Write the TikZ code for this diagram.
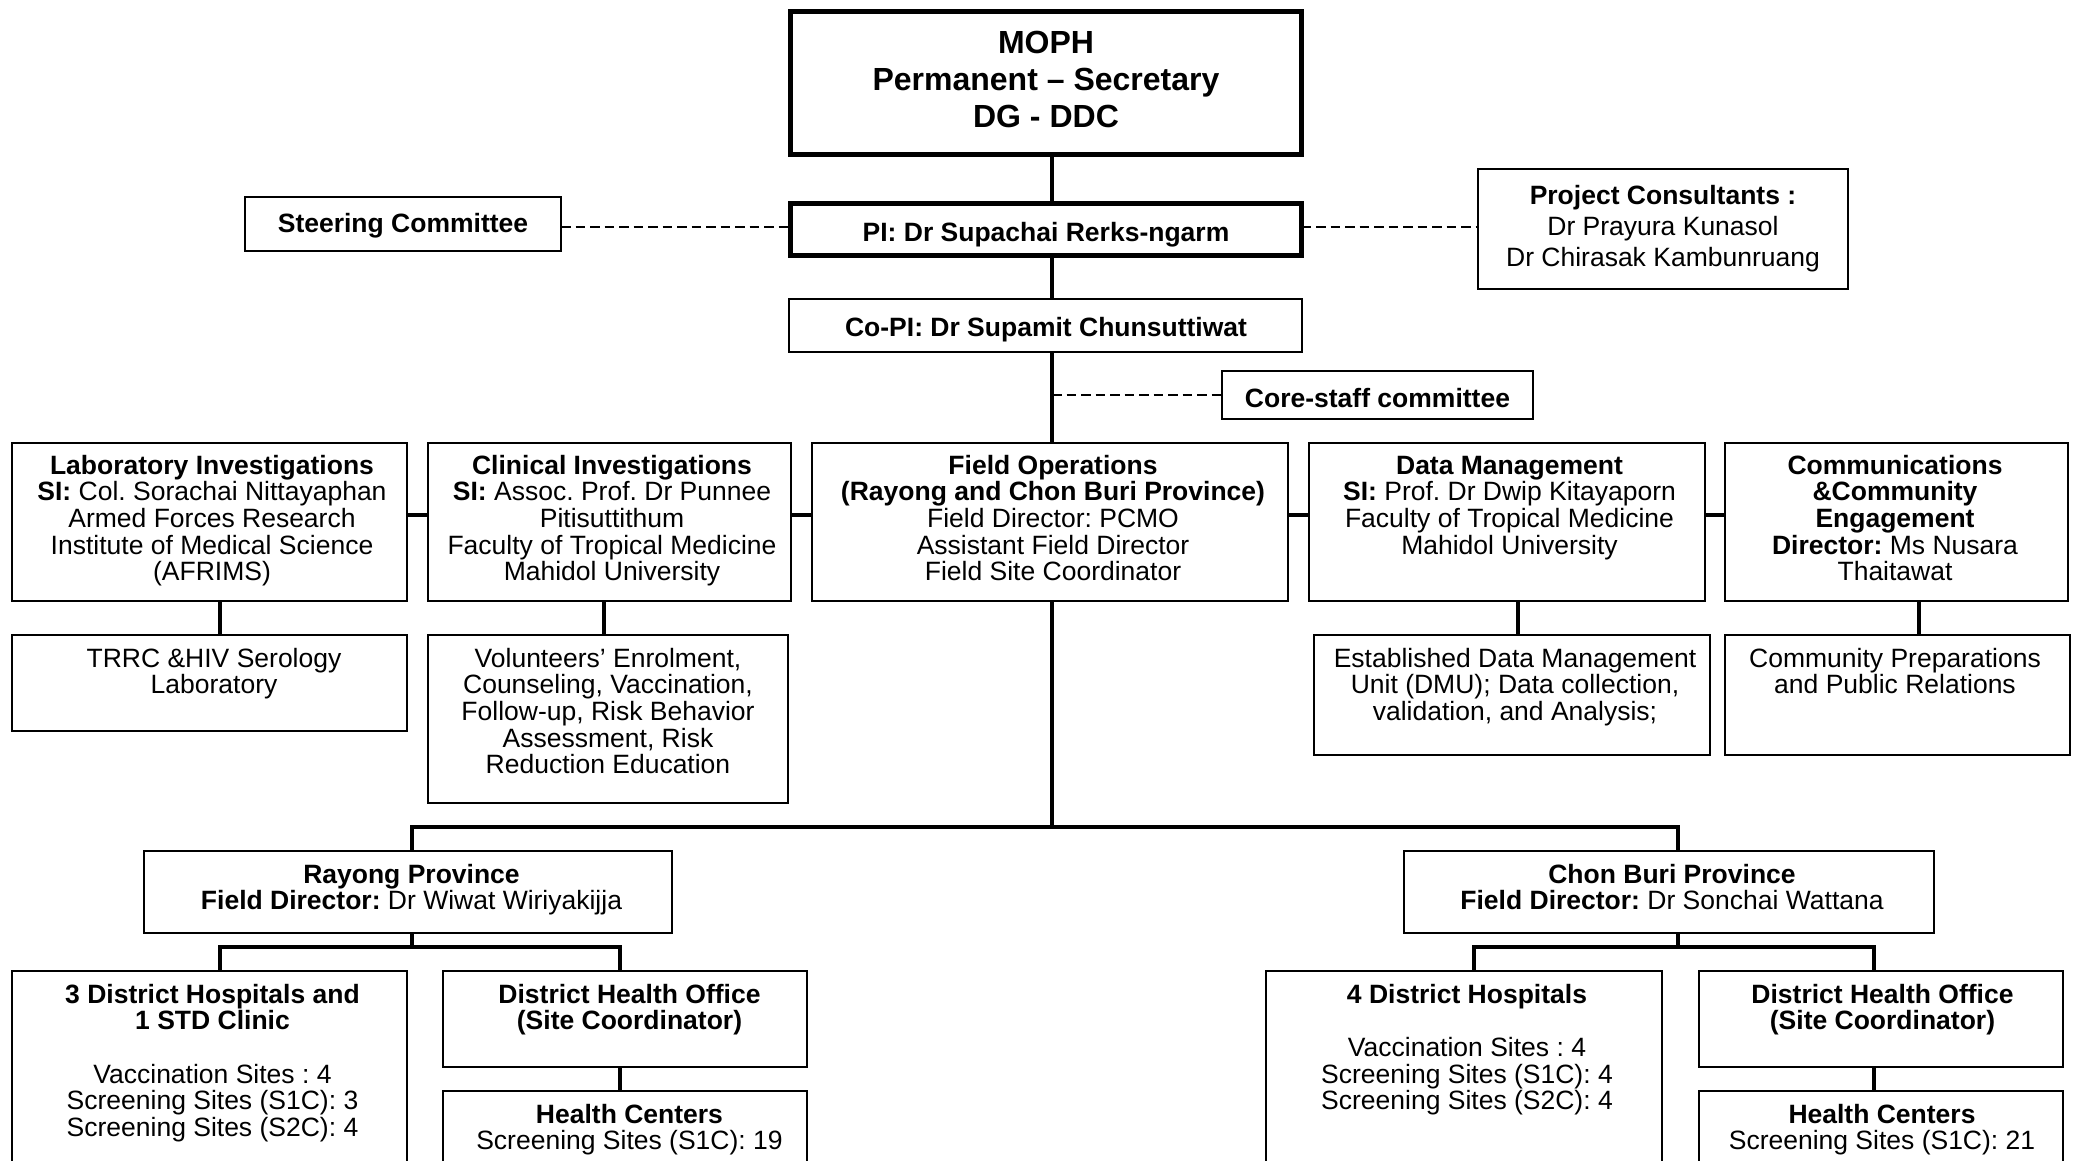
\documentclass[tikz,border=0pt]{standalone}
\usepackage{fontspec}
\setmainfont{Liberation Sans}
\frenchspacing
\newcommand\fs{\fontsize{26.5}{26.7}\selectfont}
\newcommand\fsc{\fontsize{26.5}{31.3}\selectfont}
\newcommand\fbig{\fontsize{32}{37}\selectfont}
\newcommand\fl{\rule{0pt}{20pt}}
\newcommand\flb{\rule{0pt}{24pt}}
\begin{document}
\frenchspacing
\begin{tikzpicture}[x=1pt,y=-1pt,
  box/.style={draw=black, line width=2pt, inner sep=0pt, outer sep=0pt},
  thickbox/.style={draw=black, line width=5pt, inner sep=0pt, outer sep=0pt},
  txt/.style={inner sep=0pt, outer sep=0pt, align=center, anchor=north, font=\fs},
  conn/.style={line width=3.2pt},
  rowconn/.style={line width=4pt},
  dashconn/.style={line width=2pt, dash pattern=on 9.5pt off 5pt}]
\useasboundingbox (0,0) rectangle (2078,1160);
\fill[white] (0,0) rectangle (2078,1160);
\begin{scope}
\clip (0,0) rectangle (2078,1160);
% ---------- boxes ----------
\node[thickbox, minimum width=511pt, minimum height=143pt] (moph) at (1046,83) {};
\node[thickbox, minimum width=511pt, minimum height=52pt] (pi) at (1046,229.5) {};
\node[box, minimum width=316pt, minimum height=54pt] (steer) at (403,224) {};
\node[box, minimum width=370pt, minimum height=120pt] (cons) at (1663,229) {};
\node[box, minimum width=513pt, minimum height=53pt] (copi) at (1045.5,325.5) {};
\node[box, minimum width=311pt, minimum height=48pt] (core) at (1377.5,395) {};
\node[box, minimum width=395pt, minimum height=158pt] (lab) at (209.5,522) {};
\node[box, minimum width=363pt, minimum height=158pt] (clin) at (609.5,522) {};
\node[box, minimum width=476pt, minimum height=158pt] (field) at (1050,522) {};
\node[box, minimum width=396pt, minimum height=158pt] (data) at (1507,522) {};
\node[box, minimum width=343pt, minimum height=158pt] (comm) at (1896.5,522) {};
\node[box, minimum width=395pt, minimum height=96pt] (trrc) at (209.5,683) {};
\node[box, minimum width=360pt, minimum height=168pt] (vol) at (608,719) {};
\node[box, minimum width=396pt, minimum height=120pt] (dmu) at (1512,695) {};
\node[box, minimum width=345pt, minimum height=120pt] (commsub) at (1897.5,695) {};
\node[box, minimum width=528pt, minimum height=82pt] (rayong) at (408,892) {};
\node[box, minimum width=530pt, minimum height=82pt] (chon) at (1669,892) {};
\node[box, minimum width=395pt, minimum height=229pt] (dhA) at (209.5,1085.5) {};
\node[box, minimum width=364pt, minimum height=96pt] (dhoR) at (625,1019) {};
\node[box, minimum width=364pt, minimum height=109pt] (hcR) at (625,1145.5) {};
\node[box, minimum width=396pt, minimum height=229pt] (dhB) at (1464,1085.5) {};
\node[box, minimum width=364pt, minimum height=96pt] (dhoC) at (1881,1019) {};
\node[box, minimum width=364pt, minimum height=109pt] (hcC) at (1881,1145.5) {};
% ---------- texts ----------
\node[txt, font=\fbig\bfseries] (tmoph) at (1046,29) {\flb MOPH\\Permanent – Secretary\\DG - DDC};
\node[txt, font=\fs\bfseries] (tpi) at (1046,221) {\fl PI: Dr Supachai Rerks-ngarm};
\node[txt, font=\fs\bfseries] (tsteer) at (403,212) {\fl Steering Committee};
\node[txt, font=\fsc] (tcons) at (1663,184) {\fl\textbf{Project Consultants :}\\Dr Prayura Kunasol\\Dr Chirasak Kambunruang};
\node[txt, font=\fs\bfseries] (tcopi) at (1046,316) {\fl Co-PI: Dr Supamit Chunsuttiwat};
\node[txt, font=\fs\bfseries] (tcore) at (1377.5,387) {\fl Core-staff committee};
\node[txt] (tlab) at (212,454) {\fl\textbf{Laboratory Investigations}\\\textbf{SI:} Col. Sorachai Nittayaphan\\Armed Forces Research\\Institute of Medical Science\\(AFRIMS)};
\node[txt] (tclin) at (612,454) {\fl\textbf{Clinical Investigations}\\\textbf{SI:} Assoc. Prof. Dr Punnee\\Pitisuttithum\\Faculty of Tropical Medicine\\Mahidol University};
\node[txt] (tfield) at (1053,454) {\fl\textbf{Field Operations}\\\textbf{(Rayong and Chon Buri Province)}\\Field Director: PCMO\\Assistant Field Director\\Field Site Coordinator};
\node[txt] (tdata) at (1509.5,454) {\fl\textbf{Data Management}\\\textbf{SI:} Prof. Dr Dwip Kitayaporn\\Faculty of Tropical Medicine\\Mahidol University};
\node[txt] (tcomm) at (1895,454) {\fl\textbf{Communications}\\\textbf{\&Community}\\\textbf{Engagement}\\\textbf{Director:} Ms Nusara\\Thaitawat};
\node[txt] (ttrrc) at (214,647) {\fl TRRC \&HIV Serology\\Laboratory};
\node[txt] (tvol) at (608,647) {\fl Volunteers’ Enrolment,\\Counseling, Vaccination,\\Follow-up, Risk Behavior\\Assessment, Risk\\Reduction Education};
\node[txt] (tdmu) at (1515,647) {\fl Established Data Management\\Unit (DMU); Data collection,\\validation, and Analysis;};
\node[txt] (tcommsub) at (1895,647) {\fl Community Preparations\\and Public Relations};
\node[txt] (trayong) at (411.5,863) {\fl\textbf{Rayong Province}\\\textbf{Field Director:} Dr Wiwat Wiriyakijja};
\node[txt] (tchon) at (1672,863) {\fl\textbf{Chon Buri Province}\\\textbf{Field Director:} Dr Sonchai Wattana};
\node[txt] (tdhA) at (212.5,983) {\fl\textbf{3 District Hospitals and}\\\textbf{1 STD Clinic}\\\mbox{}\\Vaccination Sites : 4\\Screening Sites (S1C): 3\\Screening Sites (S2C): 4};
\node[txt] (tdhoR) at (629.5,983) {\fl\textbf{District Health Office}\\\textbf{(Site Coordinator)}};
\node[txt] (thcR) at (629.5,1103) {\fl\textbf{Health Centers}\\Screening Sites (S1C): 19};
\node[txt] (tdhB) at (1467,983) {\fl\textbf{4 District Hospitals}\\\mbox{}\\Vaccination Sites : 4\\Screening Sites (S1C): 4\\Screening Sites (S2C): 4};
\node[txt] (tdhoC) at (1882.5,983) {\fl\textbf{District Health Office}\\\textbf{(Site Coordinator)}};
\node[txt] (thcC) at (1882,1103) {\fl\textbf{Health Centers}\\Screening Sites (S1C): 21};
% ---------- coordinates ----------
\coordinate (trunk) at (1052,0);
\coordinate (dashy) at (0,227);
\coordinate (rowy) at (0,515);
\coordinate (busL) at (412,827);
\coordinate (busR) at (1678,827);
\coordinate (subL) at (0,947);
\coordinate (xa) at (220,0);
\coordinate (xb) at (604,0);
\coordinate (xc) at (1518,0);
\coordinate (xd) at (1919,0);
\coordinate (xe) at (220,0);
\coordinate (xf) at (620,0);
\coordinate (xg) at (1474,0);
\coordinate (xh) at (1874,0);
% ---------- connectors ----------
\draw[conn] (moph.south -| trunk) -- (pi.north -| trunk);
\draw[conn] (pi.south -| trunk) -- (copi.north -| trunk);
\draw[conn] (copi.south -| trunk) -- (field.north -| trunk);
\draw[conn] (field.south -| trunk) -- (trunk |- busL);
\draw[conn] (busL |- rayong.north) -- (busL) -- (busR) -- (busR |- chon.north);
\draw[dashconn] (steer.east |- dashy) -- (pi.west |- dashy);
\draw[dashconn] (pi.east |- dashy) -- (cons.west |- dashy);
\draw[dashconn] (trunk |- core.west) -- (core.west);
\draw[rowconn] (lab.east |- rowy) -- (clin.west |- rowy);
\draw[rowconn] (clin.east |- rowy) -- (field.west |- rowy);
\draw[rowconn] (field.east |- rowy) -- (data.west |- rowy);
\draw[rowconn] (data.east |- rowy) -- (comm.west |- rowy);
\draw[conn] (lab.south -| xa) -- (trrc.north -| xa);
\draw[conn] (clin.south -| xb) -- (vol.north -| xb);
\draw[conn] (data.south -| xc) -- (dmu.north -| xc);
\draw[conn] (comm.south -| xd) -- (commsub.north -| xd);
\draw[conn] (rayong.south -| busL) -- (busL |- subL);
\draw[conn] (dhA.north -| xe) -- (xe |- subL) -- (xf |- subL) -- (dhoR.north -| xf);
\draw[conn] (dhoR.south -| xf) -- (hcR.north -| xf);
\draw[conn] (chon.south -| busR) -- (busR |- subL);
\draw[conn] (dhB.north -| xg) -- (xg |- subL) -- (xh |- subL) -- (dhoC.north -| xh);
\draw[conn] (dhoC.south -| xh) -- (hcC.north -| xh);
\end{scope}
\end{tikzpicture}
\end{document}
